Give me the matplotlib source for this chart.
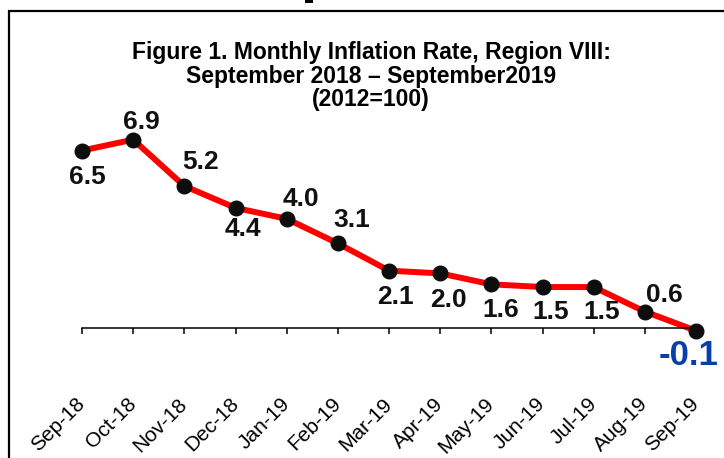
import matplotlib
matplotlib.use("Agg")
import matplotlib.pyplot as plt
from matplotlib.patches import Rectangle

plt.rcParams['font.family'] = ['Liberation Sans', 'DejaVu Sans']

months = ['Sep-18', 'Oct-18', 'Nov-18', 'Dec-18', 'Jan-19', 'Feb-19', 'Mar-19',
          'Apr-19', 'May-19', 'Jun-19', 'Jul-19', 'Aug-19', 'Sep-19']
inflation = [6.5, 6.9, 5.2, 4.4, 4.0, 3.1, 2.1, 2.0, 1.6, 1.5, 1.5, 0.6, -0.1]

# label offsets in pixels (dx, dy) relative to each point, y up
label_off = [(5, -26), (8, 18), (16, 24), (7, -21), (14, 20), (14, 23), (6, -26),
             (8, -27), (9, -26), (8, -25), (8, -25), (20, 17), (-37, -25)]

W, H = 724, 458
fig = plt.figure(figsize=(W / 100, H / 100), dpi=100)

# axes: x 0..12 maps to px 82..696, y 0 at px 328, 27.3 px per unit
ymin, ymax = -1, 8
ppu = 27.3
y0 = 328
top_px = y0 - ymax * ppu
bot_px = y0 - ymin * ppu
ax = fig.add_axes([82 / W, 1 - bot_px / H, (696 - 82) / W, (bot_px - top_px) / H])
ax.set_xlim(0, 12)
ax.set_ylim(ymin, ymax)

x = list(range(len(months)))
ax.plot(x, inflation, color='#ff0000', lw=4.3, zorder=2, clip_on=False)
ax.plot(x, inflation, 'o', color='#0d0d0d', ms=10.5, zorder=3, clip_on=False)

for i, v in enumerate(inflation):
    dx, dy = label_off[i]
    if v < 0:
        ax.annotate(f'{v:.1f}', (i, v), xytext=(dx, dy), textcoords='offset pixels',
                    ha='left', va='center', fontsize=25, fontweight='bold',
                    color='#0a3fa8', annotation_clip=False)
    else:
        ax.annotate(f'{v:.1f}', (i, v), xytext=(dx, dy), textcoords='offset pixels',
                    ha='center', va='center', fontsize=19, fontweight='bold',
                    color='#111111', annotation_clip=False)

for s in ['left', 'right', 'top']:
    ax.spines[s].set_visible(False)
ax.spines['bottom'].set_position(('data', 0))
ax.spines['bottom'].set_linewidth(1.1)
ax.set_yticks([])
ax.set_xticks(x)
ax.set_xticklabels(months, rotation=45, ha='right', va='center', rotation_mode='anchor',
                   fontsize=15)
ax.tick_params(axis='x', length=4.5, width=1.1, pad=48)
ax.patch.set_visible(False)

fig.text(371 / W, 1 - 76 / H,
         'Figure 1. Monthly Inflation Rate, Region VIII:\nSeptember 2018 \u2013 September2019\n(2012=100)',
         ha='center', va='center', fontsize=16.5, fontweight='bold', linespacing=1.02)

# outer frame and cropped mark at top
fig.patches.append(Rectangle((9 / W, -0.1), 1.2, (H - 11) / H + 0.1, transform=fig.transFigure,
                             fill=False, lw=1.6, ec='black'))
fig.patches.append(Rectangle((305 / W, 1 - 3 / H), 8 / W, 3 / H, transform=fig.transFigure,
                             color='black', lw=0))

fig.savefig('out.png', dpi=100)
